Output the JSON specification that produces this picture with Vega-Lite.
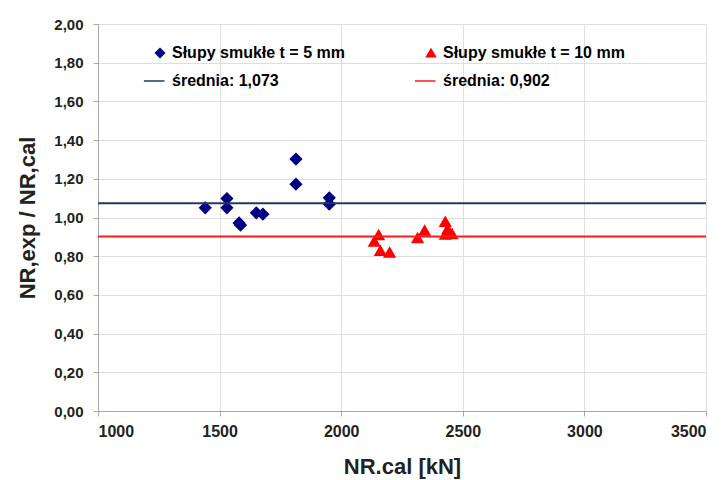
{
  "$schema": "https://vega.github.io/schema/vega-lite/v6.json",
  "autosize": {"type": "none"},
  "width": 608,
  "height": 387,
  "padding": {"left": 98, "top": 24, "right": 19, "bottom": 69},
  "background": "white",
  "config": {
    "font": "Liberation Sans",
    "view": {"stroke": null},
    "axis": {
      "labelFont": "Liberation Sans",
      "labelFontWeight": "bold",
      "labelFontSize": 15,
      "labelColor": "#222222",
      "labelOverlap": false,
      "titleFont": "Liberation Sans",
      "titleFontWeight": "bold",
      "titleFontSize": 22,
      "titleColor": "#222222",
      "gridColor": "#dedede",
      "gridWidth": 1,
      "domainColor": "#a8a8a8",
      "tickColor": "#a8a8a8",
      "tickSize": 5
    }
  },
  "layer": [
    {
      "data": {
        "values": [
          {"N": 1441, "ratio": 1.050, "series": "Słupy smukłe t = 5 mm"},
          {"N": 1530, "ratio": 1.098, "series": "Słupy smukłe t = 5 mm"},
          {"N": 1530, "ratio": 1.050, "series": "Słupy smukłe t = 5 mm"},
          {"N": 1580, "ratio": 0.972, "series": "Słupy smukłe t = 5 mm"},
          {"N": 1586, "ratio": 0.960, "series": "Słupy smukłe t = 5 mm"},
          {"N": 1651, "ratio": 1.024, "series": "Słupy smukłe t = 5 mm"},
          {"N": 1678, "ratio": 1.017, "series": "Słupy smukłe t = 5 mm"},
          {"N": 1814, "ratio": 1.302, "series": "Słupy smukłe t = 5 mm"},
          {"N": 1814, "ratio": 1.172, "series": "Słupy smukłe t = 5 mm"},
          {"N": 1951, "ratio": 1.102, "series": "Słupy smukłe t = 5 mm"},
          {"N": 1951, "ratio": 1.069, "series": "Słupy smukłe t = 5 mm"},
          {"N": 2154, "ratio": 0.912, "series": "Słupy smukłe t = 10 mm"},
          {"N": 2136, "ratio": 0.879, "series": "Słupy smukłe t = 10 mm"},
          {"N": 2161, "ratio": 0.831, "series": "Słupy smukłe t = 10 mm"},
          {"N": 2199, "ratio": 0.822, "series": "Słupy smukłe t = 10 mm"},
          {"N": 2343, "ratio": 0.935, "series": "Słupy smukłe t = 10 mm"},
          {"N": 2314, "ratio": 0.897, "series": "Słupy smukłe t = 10 mm"},
          {"N": 2428, "ratio": 0.981, "series": "Słupy smukłe t = 10 mm"},
          {"N": 2438, "ratio": 0.943, "series": "Słupy smukłe t = 10 mm"},
          {"N": 2428, "ratio": 0.914, "series": "Słupy smukłe t = 10 mm"},
          {"N": 2456, "ratio": 0.917, "series": "Słupy smukłe t = 10 mm"}
        ]
      },
      "mark": {"type": "point", "filled": true, "opacity": 1, "size": 175},
      "encoding": {
        "x": {
          "field": "N",
          "type": "quantitative",
          "scale": {"domain": [1000, 3500], "nice": false, "zero": false},
          "axis": {
            "values": [1000, 1500, 2000, 2500, 3000, 3500],
            "format": "d",
            "title": "NR.cal [kN]",
            "labelPadding": 7,
            "titlePadding": 17,
            "labelFontSize": 16
          }
        },
        "y": {
          "field": "ratio",
          "type": "quantitative",
          "scale": {"domain": [0, 2], "nice": false},
          "axis": {
            "values": [0, 0.2, 0.4, 0.6, 0.8, 1.0, 1.2, 1.4, 1.6, 1.8, 2.0],
            "labelExpr": "replace(format(datum.value, '.2f'), '.', ',')",
            "title": "NR,exp / NR,cal",
            "labelPadding": 10,
            "titlePadding": 14,
            "labelOverlap": false
          }
        },
        "color": {
          "field": "series",
          "type": "nominal",
          "scale": {
            "domain": ["Słupy smukłe t = 5 mm", "średnia: 1,073", "Słupy smukłe t = 10 mm", "średnia: 0,902"],
            "range": ["#000080", "#1f3a60", "#ff0000", "#ff1a1a"]
          },
          "legend": {
            "title": null,
            "orient": "none",
            "legendX": 54,
            "legendY": 21,
            "columns": 2,
            "columnPadding": 66,
            "rowPadding": 12,
            "padding": 0,
            "symbolSize": 80,
            "labelFont": "Liberation Sans",
            "labelFontWeight": "bold",
            "labelFontSize": 16,
            "labelColor": "#000000",
            "labelOffset": 4,
            "labelLimit": 400,
            "encode": {
              "symbols": {
                "update": {
                  "stroke": {"scale": "color", "field": "value"},
                  "strokeWidth": {"signal": "indexof(datum.value, 'średnia') >= 0 ? 2.5 : 0"},
                  "opacity": {"value": 1}
                }
              }
            }
          }
        },
        "shape": {
          "field": "series",
          "type": "nominal",
          "scale": {
            "domain": ["Słupy smukłe t = 5 mm", "średnia: 1,073", "Słupy smukłe t = 10 mm", "średnia: 0,902"],
            "range": ["diamond", "M-3.6,0H1", "triangle-up", "M-3.6,0H1"]
          }
        }
      }
    },
    {
      "data": {
        "values": [
          {"ratio": 1.073, "series": "średnia: 1,073"},
          {"ratio": 0.902, "series": "średnia: 0,902"}
        ]
      },
      "mark": {"type": "rule", "strokeWidth": 2},
      "encoding": {
        "y": {
          "field": "ratio",
          "type": "quantitative",
          "axis": {
            "values": [0, 0.2, 0.4, 0.6, 0.8, 1.0, 1.2, 1.4, 1.6, 1.8, 2.0],
            "labelExpr": "replace(format(datum.value, '.2f'), '.', ',')",
            "title": "NR,exp / NR,cal",
            "labelPadding": 10,
            "titlePadding": 14,
            "labelOverlap": false
          }
        },
        "color": {"field": "series", "type": "nominal"}
      }
    }
  ]
}
